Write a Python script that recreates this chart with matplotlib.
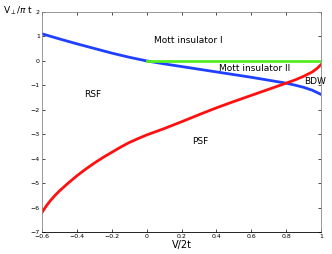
import numpy as np
import matplotlib
matplotlib.use("Agg")
import matplotlib.pyplot as plt

# phase boundaries
blue_x = [-0.6, -0.5, -0.4, -0.3, -0.2, -0.1, 0.0, 0.1, 0.2, 0.3, 0.4, 0.5, 0.6, 0.7, 0.8, 0.85, 0.9, 0.95, 1.0]
blue_y = [1.11, 0.90, 0.70, 0.51, 0.32, 0.15, 0.0, -0.12, -0.23, -0.34, -0.45, -0.56, -0.67, -0.79, -0.91, -0.99, -1.08, -1.2, -1.37]

red_x = [-0.6, -0.575, -0.55, -0.525, -0.5, -0.45, -0.4, -0.35, -0.3, -0.25, -0.2, -0.15, -0.1, -0.05,
         0.0, 0.1, 0.2, 0.3, 0.4, 0.5, 0.6, 0.7, 0.8, 0.85, 0.9, 0.95, 0.975, 1.0]
red_y = [-6.2, -5.93, -5.7, -5.5, -5.32, -5.0, -4.7, -4.43, -4.18, -3.95, -3.74, -3.53, -3.34, -3.18,
         -3.03, -2.77, -2.49, -2.2, -1.92, -1.66, -1.41, -1.16, -0.91, -0.78, -0.63, -0.45, -0.32, -0.15]

green_x = [0.0, 1.0]
green_y = [0.0, 0.0]

labels = ["Mott insulator I", "Mott insulator II", "BDW", "RSF", "PSF"]
label_pos = [(0.24, 0.85), (0.62, -0.29), (0.965, -0.84), (-0.31, -1.39), (0.305, -3.3)]

fig = plt.figure(figsize=(3.32, 2.54), dpi=100)
ax = fig.add_axes([0.1265, 0.0866, 0.8405, 0.8660])

ax.plot(blue_x, blue_y, color="#2040ff", lw=2)
ax.plot(red_x, red_y, color="#ff1010", lw=2)
ax.plot(green_x, green_y, color="#55ee22", lw=2)

for txt, (x, y) in zip(labels, label_pos):
    ax.text(x, y, txt, fontsize=6.5, ha="center", va="center")

ax.set_xlim(-0.6, 1)
ax.set_ylim(-7, 2)
ax.set_xticks([-0.6, -0.4, -0.2, 0, 0.2, 0.4, 0.6, 0.8, 1])
ax.set_xticklabels(["\u22120.6", "\u22120.4", "\u22120.2", "0", "0.2", "0.4", "0.6", "0.8", "1"])
ax.set_yticks(range(-7, 3))
ax.set_yticklabels([("\u2212" + str(-v)) if v < 0 else str(v) for v in range(-7, 3)])
ax.tick_params(direction="in", labelsize=4.5, length=2.5, width=0.5, pad=1.5,
               top=True, right=True)
for s in ax.spines.values():
    s.set_linewidth(0.6)
    s.set_color("#888888")
ax.spines["bottom"].set_color("black")

ax.set_xlabel("V/2t", fontsize=7, labelpad=1)
fig.text(0.008, 0.958, r"V$_{\perp}$/$\pi$ t", fontsize=6.5, ha="left", va="center")

plt.savefig("out.png", dpi=100)
plt.close()
